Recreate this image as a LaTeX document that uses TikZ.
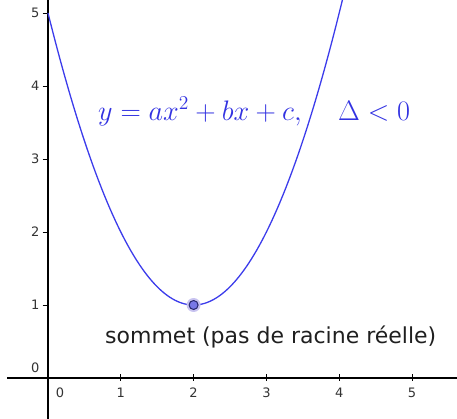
\documentclass[tikz,border=0pt]{standalone}
\usepackage{graphicx}
\usepackage{fontspec}
\setsansfont{DejaVu Sans}
\newcommand{\bigmath}[1]{\scalebox{1.36}{\fontsize{20}{24}\selectfont$#1$}}
\begin{document}
\begin{tikzpicture}[x=72.8pt,y=73pt,
  axisline/.style={line width=1.3pt,black},
  tickline/.style={line width=0.8pt,black},
  ticklab/.style={font=\sffamily\fontsize{13}{15}\selectfont,text=black!80,inner sep=0pt},
  curve/.style={line width=1.3pt,color={rgb,255:red,60;green,60;blue,235}},
  mathlab/.style={text={rgb,255:red,50;green,50;blue,225},inner sep=0pt,anchor=base west},
  sommetlab/.style={font=\sffamily\fontsize{22}{26}\selectfont,text=black!88,inner sep=0pt,anchor=base west}]
\useasboundingbox (-0.6593,-0.5479) rectangle (5.6181,5.1781);
% axes
\coordinate (xl) at (-0.56,0);
\coordinate (xr) at (5.7,0);
\coordinate (yb) at (0,-0.6);
\coordinate (yt) at (0,5.3);
\draw[axisline] (xl) -- (xr);
\draw[axisline] (yb) -- (yt);
% ticks
\foreach \k in {1,...,5}{
  \draw[tickline] (\k,-0.04) -- (\k,0.055);
  \node[ticklab] (xt\k) at (\k,-0.205) {\k};
  \draw[tickline] (-0.075,\k) -- (0,\k);
  \node[ticklab,anchor=east] (yt\k) at (-0.115,\k) {\k};
}
\node[ticklab] (x0) at (0.165,-0.205) {0};
\node[ticklab,anchor=east] (y0) at (-0.115,0.14) {0};
% parabola
\draw[curve,domain=0:4.06,samples=120] plot (\x,{(\x-2)^2+1});
% vertex
\fill[color={rgb,255:red,200;green,195;blue,240}] (2,1) circle (7pt);
\node[circle,draw={rgb,255:red,40;green,40;blue,110},line width=1pt,fill={rgb,255:red,120;green,120;blue,230},minimum size=9pt,inner sep=0pt] (vertex) at (2,1) {};
% labels
\node[mathlab] (eq) at (0.687,3.534) {\bigmath{y=ax^2+bx+c,}};
\node[mathlab] (disc) at (3.984,3.534) {\bigmath{\Delta<0}};
\node[sommetlab] (sommet) at (0.783,0.466) {sommet (pas de racine réelle)};
\end{tikzpicture}
\end{document}
